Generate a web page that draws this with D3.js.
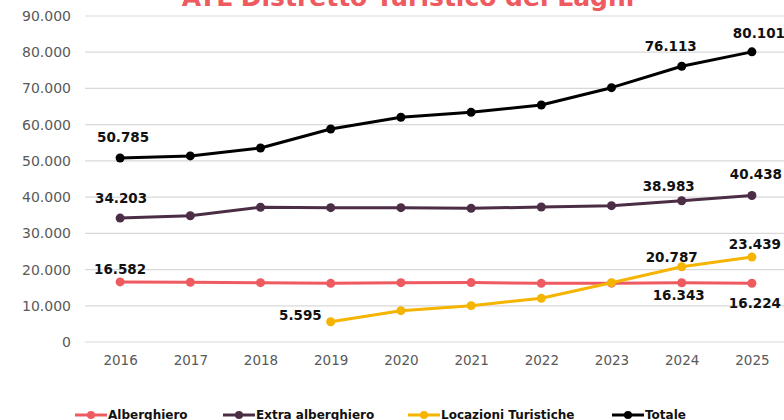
<!DOCTYPE html>
<html>
<head>
<meta charset="utf-8">
<script src="https://cdn.jsdelivr.net/npm/d3@7"></script>
<style>
  html, body { margin: 0; padding: 0; background: #fff; }
  svg { display: block; font-family: "DejaVu Sans", sans-serif; }
</style>
</head>
<body>
<svg id="chart" width="784" height="420"></svg>
<script>
'use strict';

// Data
const years = ['2016', '2017', '2018', '2019', '2020', '2021', '2022', '2023', '2024', '2025'];
const alberghiero = [16582, 16480, 16380, 16200, 16380, 16400, 16200, 16250, 16343, 16224];
const extraAlberghiero = [34203, 34870, 37190, 37080, 37080, 36900, 37270, 37640, 38983, 40438];
const locazioni = [null, null, null, 5595, 8650, 10030, 12060, 16380, 20787, 23439];
const totale = [50785, 51380, 53560, 58800, 62040, 63400, 65430, 70210, 76113, 80101];
const yTicks = [0, 10000, 20000, 30000, 40000, 50000, 60000, 70000, 80000, 90000];

const series = [
    { name: 'Alberghiero', values: alberghiero, color: '#EE5A5F' },
    { name: 'Extra alberghiero', values: extraAlberghiero, color: '#4B2D45' },
    { name: 'Locazioni Turistiche', values: locazioni, color: '#F4B400' },
    { name: 'Totale', values: totale, color: '#000000' }
];

// which points get a value label, and where it sits relative to the point
const labels = [
    { s: 0, i: 0, dx: 0, dy: -8 },
    { s: 0, i: 8, dx: -3, dy: 17 },
    { s: 0, i: 9, dx: 3, dy: 25 },
    { s: 1, i: 0, dx: 1, dy: -15 },
    { s: 1, i: 8, dx: -13, dy: -10 },
    { s: 1, i: 9, dx: 4, dy: -17 },
    { s: 2, i: 3, dx: -9, dy: -2, anchor: 'end' },
    { s: 2, i: 8, dx: -10, dy: -5 },
    { s: 2, i: 9, dx: 3, dy: -8 },
    { s: 3, i: 0, dx: 3, dy: -16 },
    { s: 3, i: 8, dx: -11, dy: -15 },
    { s: 3, i: 9, dx: 7, dy: -14 }
];

const fmt = v => d3.format(',')(v).replace(/,/g, '.');

const svg = d3.select('#chart');
const x = d3.scalePoint().domain(years).range([85, 787]).padding(0.5);
const y = d3.scaleLinear().domain([0, 90000]).range([342, 16]);

// Title (clipped at the top like the original)
svg.append('text')
    .attr('x', 408)
    .attr('y', 6)
    .attr('text-anchor', 'middle')
    .attr('font-size', 25)
    .attr('font-weight', 'bold')
    .attr('fill', '#EE5A5F')
    .text('ATL Distretto Turistico dei Laghi');

// Grid
svg.append('g')
    .selectAll('line')
    .data(yTicks)
    .enter()
    .append('line')
    .attr('x1', 85)
    .attr('x2', 784)
    .attr('y1', d => y(d))
    .attr('y2', d => y(d))
    .attr('stroke', '#d9d9d9')
    .attr('stroke-width', 1.2);

// Y axis
const yAxis = svg.append('g')
    .attr('transform', 'translate(71,0)')
    .call(d3.axisLeft(y).tickValues(yTicks).tickSize(0).tickPadding(0).tickFormat(fmt));
yAxis.select('.domain').remove();
yAxis.selectAll('text')
    .attr('font-family', '"DejaVu Sans", sans-serif')
    .attr('font-size', 14)
    .attr('fill', '#595959');

// X axis
const xAxis = svg.append('g')
    .attr('transform', 'translate(0,355)')
    .call(d3.axisBottom(x).tickSize(0).tickPadding(0));
xAxis.select('.domain').remove();
xAxis.selectAll('text')
    .attr('font-family', '"DejaVu Sans", sans-serif')
    .attr('font-size', 13.5)
    .attr('fill', '#595959');

// Lines and markers
const line = d3.line()
    .defined(d => d != null)
    .x((d, i) => x(years[i]))
    .y(d => y(d));

series.forEach(s => {
    svg.append('path')
        .datum(s.values)
        .attr('fill', 'none')
        .attr('stroke', s.color)
        .attr('stroke-width', 3)
        .attr('stroke-linejoin', 'round')
        .attr('d', line);

    svg.append('g')
        .selectAll('circle')
        .data(s.values.map((v, i) => ({ v, i })).filter(d => d.v != null))
        .enter()
        .append('circle')
        .attr('cx', d => x(years[d.i]))
        .attr('cy', d => y(d.v))
        .attr('r', 4.5)
        .attr('fill', s.color);
});

// Value labels
svg.append('g')
    .selectAll('text')
    .data(labels)
    .enter()
    .append('text')
    .attr('x', d => x(years[d.i]) + d.dx)
    .attr('y', d => y(series[d.s].values[d.i]) + d.dy)
    .attr('text-anchor', d => d.anchor || 'middle')
    .attr('font-size', 13.5)
    .attr('font-weight', 'bold')
    .attr('fill', '#111')
    .text(d => fmt(series[d.s].values[d.i]));

// Legend
const legendX = [75, 223, 408, 612];
const legend = svg.append('g')
    .selectAll('g')
    .data(series)
    .enter()
    .append('g')
    .attr('transform', (d, i) => `translate(${legendX[i]},415)`);
legend.append('line')
    .attr('x1', 0).attr('x2', 32)
    .attr('stroke', d => d.color)
    .attr('stroke-width', 3);
legend.append('circle')
    .attr('cx', 16).attr('r', 4)
    .attr('fill', d => d.color);
legend.append('text')
    .attr('x', 33)
    .attr('y', 4)
    .attr('font-size', 12)
    .attr('font-weight', 'bold')
    .attr('fill', '#111')
    .text(d => d.name);
</script>
</body>
</html>
